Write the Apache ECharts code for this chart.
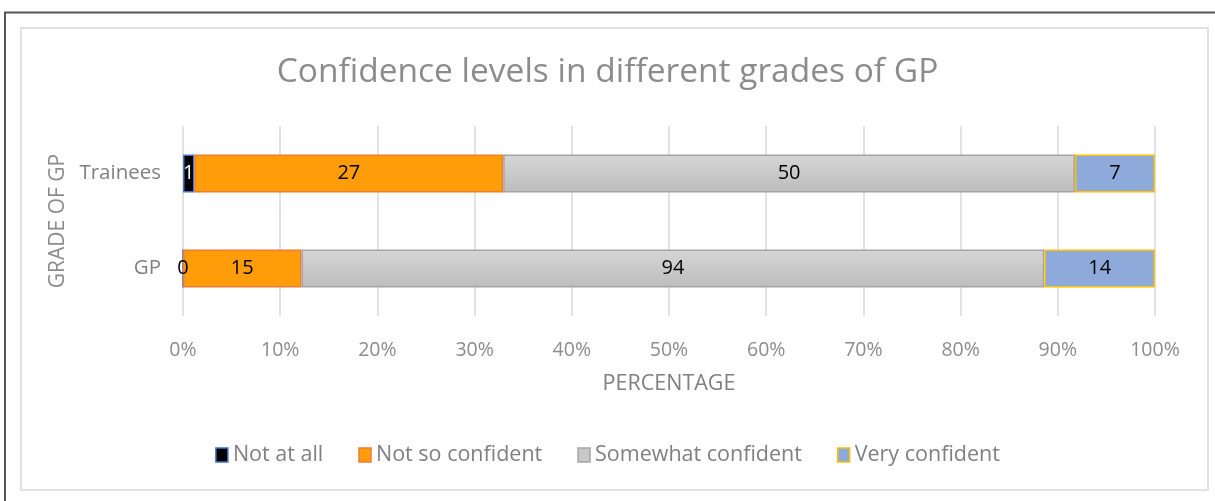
<!DOCTYPE html>
<html>
<head>
<meta charset="utf-8">
<style>
  html, body { margin: 0; padding: 0; background: #fff; }
  #chart { width: 1215px; height: 501px; }
</style>
<script src="https://cdn.jsdelivr.net/npm/echarts@6/dist/echarts.min.js"></script>
</head>
<body>
<div id="chart"></div>
<script>
const categories = ['Trainees', 'GP'];
const seriesNames = ['Not at all', 'Not so confident', 'Somewhat confident', 'Very confident'];
const notAtAll = [1, 0];
const notSoConfident = [27, 15];
const somewhatConfident = [50, 94];
const veryConfident = [7, 14];
const xTickLabels = ['0%', '10%', '20%', '30%', '40%', '50%', '60%', '70%', '80%', '90%', '100%'];

const rawSeries = [notAtAll, notSoConfident, somewhatConfident, veryConfident];
const totals = categories.map((c, i) => rawSeries.reduce((s, arr) => s + arr[i], 0));

const fills = [
  '#000000',
  '#ff9c0a',
  new echarts.graphic.LinearGradient(0, 0, 0, 1, [{offset: 0, color: '#d6d6d6'}, {offset: 1, color: '#bcbcbc'}]),
  '#8eaadb'
];
const borders = ['#4472c4', '#ed7d31', '#a5a5a5', '#ffc000'];
const legendFills = ['#000000', '#ff9c0a', '#c8c8c8', '#8eaadb'];

const chart = echarts.init(document.getElementById('chart'), null, {renderer: 'canvas'});

const series = rawSeries.map((arr, si) => ({
  name: seriesNames[si],
  type: 'bar',
  stack: 'total',
  barWidth: '40%',
  data: arr.map((v, i) => ({
    value: v / totals[i] * 100,
    raw: v,
    label: { color: (si === 0 && v > 0) ? '#ffffff' : '#000000' }
  })),
  itemStyle: { color: fills[si], borderColor: borders[si], borderWidth: 1.5 },
  label: {
    show: true,
    position: 'inside',
    fontSize: 20,
    fontFamily: 'Open Sans',
    formatter: p => String(p.data.raw)
  }
}));

chart.setOption({
  animation: false,
  backgroundColor: '#ffffff',
  textStyle: { fontFamily: 'Open Sans' },
  title: {
    text: 'Confidence levels in different grades of GP',
    left: 'center',
    top: 50,
    textStyle: { color: '#8c8c8c', fontSize: 33.5, fontWeight: 'normal', fontFamily: 'Open Sans' }
  },
  legend: {
    data: seriesNames.map((n, i) => ({ name: n, itemStyle: { color: legendFills[i], borderColor: borders[i], borderWidth: 1.5 } })),
    top: 439,
    left: 'center',
    icon: 'rect',
    itemWidth: 12,
    itemHeight: 14,
    itemGap: 35,
    textStyle: { color: '#808080', fontSize: 21.5, fontFamily: 'Open Sans', padding: [0, 0, 0, 0] }
  },
  grid: { left: 183, right: 60, top: 126, height: 190, containLabel: false },
  xAxis: {
    type: 'value',
    min: 0,
    max: 100,
    interval: 10,
    name: 'PERCENTAGE',
    nameLocation: 'middle',
    nameGap: 57,
    nameTextStyle: { color: '#808080', fontSize: 21.5, fontFamily: 'Open Sans' },
    axisLine: { show: false },
    axisTick: { show: false },
    axisLabel: { color: '#8c8c8c', fontSize: 19.5, margin: 24, formatter: (v) => xTickLabels[Math.round(v / 10)] },
    splitLine: { show: true, lineStyle: { color: '#d9d9d9', width: 1.5 } }
  },
  yAxis: {
    type: 'category',
    data: categories,
    inverse: true,
    name: 'GRADE OF GP',
    nameLocation: 'middle',
    nameGap: 114,
    nameRotate: 90,
    nameTextStyle: { color: '#8c8c8c', fontSize: 21, fontFamily: 'Open Sans' },
    axisLine: { show: false },
    axisTick: { show: false },
    axisLabel: { color: '#808080', fontSize: 20.5, margin: 22 },
    splitLine: { show: false }
  },
  graphic: [
    { type: 'polyline', shape: { points: [[5, 501], [5, 12.5], [1215, 12.5]] }, style: { stroke: '#555555', lineWidth: 2, fill: null }, silent: true },
    { type: 'rect', shape: { x: 21, y: 28, width: 1187, height: 462 }, style: { stroke: '#e2e2e2', lineWidth: 2, fill: null }, silent: true }
  ],
  series: series
});
</script>
</body>
</html>
